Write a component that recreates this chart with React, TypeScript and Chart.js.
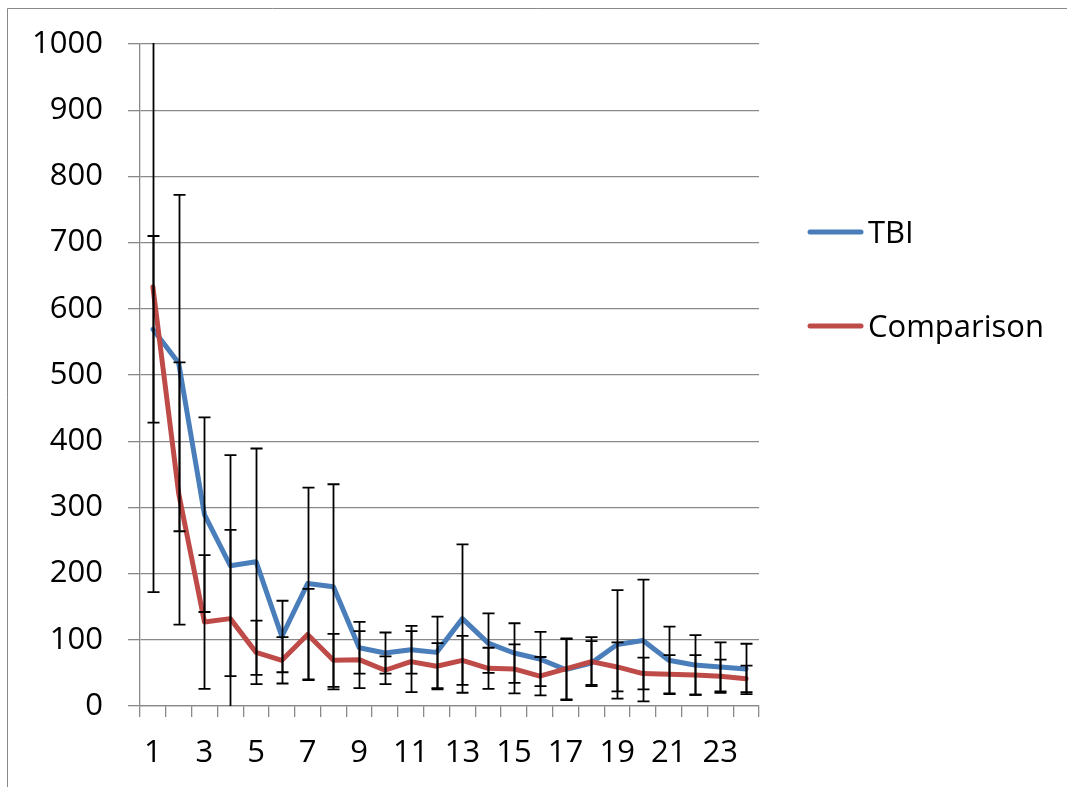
import React, { useEffect, useRef } from "react";
import { Chart, registerables } from "chart.js";

Chart.register(...registerables);

// Measurement periods on the x axis
const categories = [
  "1", "2", "3", "4", "5", "6", "7", "8", "9", "10", "11", "12",
  "13", "14", "15", "16", "17", "18", "19", "20", "21", "22", "23", "24",
];

// Group means
const tbiMean = [
  569, 518, 289, 212, 218, 105, 185, 180, 88, 80, 85, 81,
  132, 95, 80, 71, 55, 65, 93, 99, 69, 62, 59, 56,
];
const comparisonMean = [
  633, 321, 127, 132, 81, 69, 108, 69, 70, 54, 67, 60,
  69, 57, 56, 45, 56, 67, 59, 49, 48, 47, 45, 41,
];

// Symmetric error amounts (+/-) for each mean
const tbiError = [
  141, 254, 147, 167, 171, 54, 145, 155, 39, 31, 36, 54,
  112, 45, 45, 41, 46, 33, 82, 92, 51, 45, 37, 38,
];
const comparisonError = [
  461, 198, 101, 134, 48, 35, 69, 40, 43, 21, 46, 35,
  37, 31, 37, 29, 46, 37, 37, 24, 29, 30, 25, 20,
];

// Y axis range
const yMin = 0;
const yMax = 1000;
const yStep = 100;

const seriesNames = ["TBI", "Comparison"];
const seriesColors = ["#4A7EBB", "#BE4B48"];
const errorSets = [tbiError, comparisonError];

const FONT = "'Open Sans', 'DejaVu Sans', sans-serif";
const GRID = "#898989";

const framePlugin = {
  id: "outerFrame",
  beforeDraw(chart: any) {
    const { ctx } = chart;
    ctx.save();
    ctx.strokeStyle = GRID;
    ctx.lineWidth = 1;
    ctx.beginPath();
    ctx.moveTo(7.5, chart.height);
    ctx.lineTo(7.5, 8.5);
    ctx.lineTo(chart.width, 8.5);
    ctx.stroke();
    ctx.restore();
  },
};

const errorBarPlugin = {
  id: "errorBars",
  afterDatasetsDraw(chart: any) {
    const { ctx, chartArea, scales } = chart;
    const xs = scales.x;
    const ys = scales.y;
    ctx.save();
    ctx.beginPath();
    ctx.rect(
      chartArea.left,
      chartArea.top - 1,
      chartArea.right - chartArea.left,
      chartArea.bottom - chartArea.top + 1
    );
    ctx.clip();
    ctx.strokeStyle = "#000000";
    ctx.lineWidth = 1.8;
    ctx.lineCap = "butt";
    chart.data.datasets.forEach((ds: any, di: number) => {
      const errs = errorSets[di];
      ds.data.forEach((v: number, i: number) => {
        const px = Math.round(xs.getPixelForValue(i)) + 0.5;
        const hi = ys.getPixelForValue(v + errs[i]);
        const lo = ys.getPixelForValue(v - errs[i]);
        const half = 6;
        ctx.beginPath();
        ctx.moveTo(px, hi);
        ctx.lineTo(px, lo);
        ctx.moveTo(px - half, hi);
        ctx.lineTo(px + half, hi);
        ctx.moveTo(px - half, lo);
        ctx.lineTo(px + half, lo);
        ctx.stroke();
      });
    });
    ctx.restore();
  },
};

const legendPlugin = {
  id: "sideLegend",
  afterDraw(chart: any) {
    const { ctx } = chart;
    const rows = [243, 337];
    ctx.save();
    ctx.font = `31px ${FONT}`;
    ctx.fillStyle = "#000000";
    ctx.textBaseline = "alphabetic";
    ctx.textAlign = "left";
    chart.data.datasets.forEach((ds: any, i: number) => {
      const base = rows[i];
      const lineY = base - 11;
      ctx.strokeStyle = ds.borderColor;
      ctx.lineWidth = 5;
      ctx.lineCap = "round";
      ctx.beginPath();
      ctx.moveTo(810, lineY);
      ctx.lineTo(861, lineY);
      ctx.stroke();
      ctx.fillText(ds.label, 868, base);
    });
    ctx.restore();
  },
};

export default function App() {
  const canvasRef = useRef<HTMLCanvasElement | null>(null);

  useEffect(() => {
    const canvas = canvasRef.current;
    if (!canvas) return;
    const chart = new Chart(canvas, {
      type: "line",
      data: {
        labels: categories,
        datasets: [
          {
            label: seriesNames[0],
            data: tbiMean,
            borderColor: seriesColors[0],
            backgroundColor: seriesColors[0],
            borderWidth: 5,
            borderJoinStyle: "round",
            borderCapStyle: "round",
            pointRadius: 0,
            tension: 0,
            order: 1,
          },
          {
            label: seriesNames[1],
            data: comparisonMean,
            borderColor: seriesColors[1],
            backgroundColor: seriesColors[1],
            borderWidth: 5,
            borderJoinStyle: "round",
            borderCapStyle: "round",
            pointRadius: 0,
            tension: 0,
            order: 0,
          },
        ],
      },
      options: {
        responsive: false,
        animation: false,
        devicePixelRatio: 1,
        layout: { padding: { top: 44, right: 308, bottom: 0, left: 0 } },
        plugins: {
          legend: { display: false },
          tooltip: { enabled: false },
        },
        scales: {
          x: {
            type: "category",
            offset: true,
            grid: {
              offset: true,
              drawOnChartArea: false,
              drawTicks: true,
              tickLength: 11,
              color: GRID,
              lineWidth: 1.3,
            },
            border: { display: true, color: GRID, width: 1.3 },
            ticks: {
              autoSkip: false,
              maxRotation: 0,
              minRotation: 0,
              padding: 18,
              color: "#000000",
              font: { family: FONT, size: 31 },
              callback: (_v: any, i: number) => (i % 2 === 0 ? categories[i] : ""),
            },
            afterFit: (scale: any) => {
              scale.height = 81;
            },
          },
          y: {
            min: yMin,
            max: yMax,
            grid: {
              color: GRID,
              lineWidth: 1.3,
              drawTicks: true,
              tickLength: 12,
            },
            border: { display: true, color: GRID, width: 1.3 },
            ticks: {
              stepSize: yStep,
              padding: 25,
              color: "#000000",
              font: { family: FONT, size: 31 },
              callback: (v: any) => String(v),
            },
            afterFit: (scale: any) => {
              scale.width = 140;
            },
          },
        },
      },
      plugins: [framePlugin, errorBarPlugin, legendPlugin],
    });
    return () => chart.destroy();
  }, []);

  return (
    <div style={{ position: "absolute", left: 0, top: 0, width: 1067, height: 787, background: "#ffffff" }}>
      <canvas ref={canvasRef} width={1067} height={787} />
    </div>
  );
}
